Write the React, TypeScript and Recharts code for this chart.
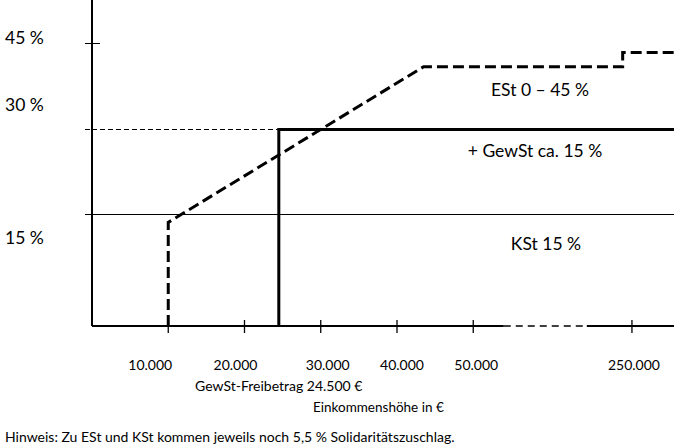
import { LineChart, Line, XAxis, YAxis, ReferenceLine } from 'recharts';

// incomes in euro, rates in percent
const estIncome = [10000, 10000, 43500, 235000, 235000, 318000];
const estRate = [0, 14, 41, 41, 43.5, 43.5];
const gewstIncome = [24500, 24500, 318000];
const gewstRate = [0, 30, 30];
const kstIncome = [0, 318000];
const kstRate = [15, 15];
const freibetragIncome = [0, 24500];
const freibetragRate = [30, 30];

const xTicks = [10000, 20000, 30000, 40000, 50000, 250000];
const xTickLabels = ['10.000', '20.000', '30.000', '40.000', '50.000', '250.000'];
const yTicks = [15, 30, 45];
const yTickLabels = ['15 %', '30 %', '45 %'];
const axisBreak = [54000, 177000];

const INCOME_MAX = 318000;
const RATE_MAX = 52.7;

// the income axis is broken after ~55.000 €, everything above is squeezed
const X_BREAK = 55000;
const X_SQUEEZE = 0.0811;
const xPos = (v: number) => (v <= X_BREAK ? v : X_BREAK + (v - X_BREAK) * X_SQUEEZE);
// 0 - 15 % is drawn stretched
const Y_LIFT = 4.47;
const yPos = (r: number) => (r >= 15 ? r + Y_LIFT : (r * (15 + Y_LIFT)) / 15);

const toPoints = (xs: number[], ys: number[]) => xs.map((x, i) => ({ x: xPos(x), y: yPos(ys[i]) }));

const FONT = 'Lato, "Open Sans", sans-serif';
const xLabelDx = [-18, -9, 7, 5, 3, 2];
const yLabelDy = [23, -24, -6];

const XTick = (props: any) => {
  const { x, y, index } = props;
  return (
    <g>
      <line x1={x} x2={x} y1={y - 6} y2={y + 7} stroke="#000" strokeWidth={1.3} />
      <text x={x + xLabelDx[index]} y={y + 44} textAnchor="middle" fontSize={14} fontFamily={FONT} fill="#000">
        {xTickLabels[index]}
      </text>
    </g>
  );
};

const YTick = (props: any) => {
  const { x, y, index } = props;
  return (
    <g>
      <line
        x1={x - 7}
        x2={index === 2 ? x + 8 : x}
        y1={y}
        y2={y}
        stroke="#000"
        strokeWidth={1}
        shapeRendering="crispEdges"
        strokeDasharray={index === 1 ? '5 3' : undefined}
      />
      <text x={5} y={y + yLabelDy[index] + 6} fontSize={17.5} fontFamily={FONT} fill="#000">
        {yTickLabels[index]}
      </text>
    </g>
  );
};

const note = (left: number, cy: number, size: number, center = false): React.CSSProperties => ({
  position: 'absolute',
  left,
  top: cy - size * 0.6,
  fontSize: size,
  lineHeight: `${size * 1.2}px`,
  fontFamily: FONT,
  color: '#000',
  whiteSpace: 'nowrap',
  transform: center ? 'translateX(-50%)' : undefined,
});

export default function App() {
  return (
    <div style={{ position: 'absolute', left: 0, top: 0, width: 674, height: 448, background: '#fff' }}>
      <LineChart width={674} height={448} margin={{ top: 0, right: 0, bottom: 0, left: 0 }}>
        <XAxis
          type="number"
          dataKey="x"
          domain={[0, xPos(INCOME_MAX)]}
          ticks={xTicks.map(xPos)}
          interval={0}
          height={122}
          axisLine={false}
          tickLine={false}
          tickSize={0}
          tickMargin={0}
          tick={XTick}
          allowDataOverflow
        />
        <YAxis
          type="number"
          dataKey="y"
          domain={[0, yPos(RATE_MAX)]}
          ticks={yTicks.map(yPos)}
          interval={0}
          width={92}
          axisLine={{ stroke: '#000', strokeWidth: 2 }}
          tickLine={false}
          tickSize={0}
          tickMargin={0}
          tick={YTick}
          allowDataOverflow
        />
        <ReferenceLine
          segment={[{ x: 0, y: 0 }, { x: xPos(axisBreak[0]), y: 0 }]}
          stroke="#000"
          strokeWidth={2}
          ifOverflow="visible"
        />
        <ReferenceLine
          segment={[{ x: xPos(axisBreak[0]), y: 0 }, { x: xPos(axisBreak[1]), y: 0 }]}
          stroke="#000"
          strokeWidth={1.5}
          strokeDasharray="7 5"
          ifOverflow="visible"
        />
        <ReferenceLine
          segment={[{ x: xPos(axisBreak[1]), y: 0 }, { x: xPos(INCOME_MAX), y: 0 }]}
          stroke="#000"
          strokeWidth={2}
          ifOverflow="visible"
        />
        <Line
          name="KSt"
          data={toPoints(kstIncome, kstRate)}
          dataKey="y"
          type="linear"
          stroke="#000"
          strokeWidth={1}
          shapeRendering="crispEdges"
          dot={false}
          isAnimationActive={false}
        />
        <Line
          name="Freibetrag"
          data={toPoints(freibetragIncome, freibetragRate)}
          dataKey="y"
          type="linear"
          stroke="#000"
          strokeWidth={1}
          shapeRendering="crispEdges"
          strokeDasharray="5 3"
          dot={false}
          isAnimationActive={false}
        />
        <Line
          name="GewSt"
          data={toPoints(gewstIncome, gewstRate)}
          dataKey="y"
          type="linear"
          stroke="#000"
          strokeWidth={3}
          dot={false}
          isAnimationActive={false}
        />
        <Line
          name="ESt"
          data={toPoints(estIncome, estRate)}
          dataKey="y"
          type="linear"
          stroke="#000"
          strokeWidth={3}
          strokeDasharray="11 5"
          dot={false}
          isAnimationActive={false}
        />
      </LineChart>
      <div style={note(540, 89, 17.5, true)}>ESt 0 – 45 %</div>
      <div style={note(535, 150, 17.5, true)}>+ GewSt ca. 15 %</div>
      <div style={note(546, 243, 17.5, true)}>KSt 15 %</div>
      <div style={note(195, 386, 14)}>GewSt-Freibetrag 24.500 €</div>
      <div style={note(313, 407, 13.5)}>Einkommenshöhe in €</div>
      <div style={note(5, 437, 14)}>Hinweis: Zu ESt und KSt kommen jeweils noch 5,5 % Solidaritätszuschlag.</div>
    </div>
  );
}
